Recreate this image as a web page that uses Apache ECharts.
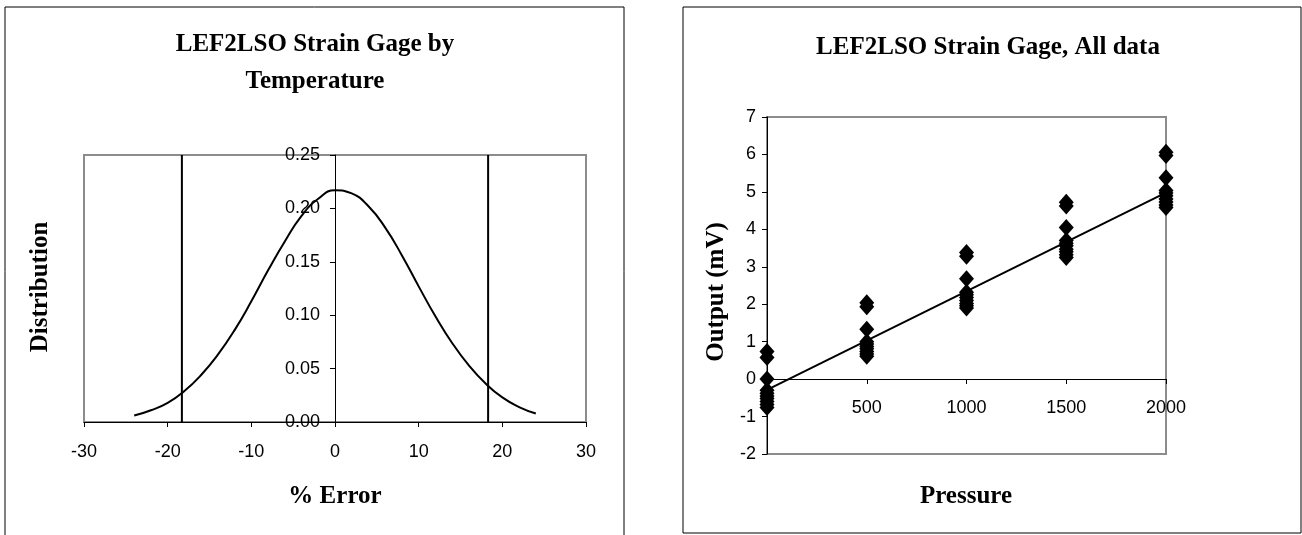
<!DOCTYPE html>
<html>
<head>
<meta charset="utf-8">
<script src="https://cdn.jsdelivr.net/npm/echarts@6/dist/echarts.min.js"></script>
<style>
  html, body { margin: 0; padding: 0; background: #fff; }
  #chart { width: 1302px; height: 535px; }
</style>
</head>
<body>
<div id="chart"></div>
<script>
// left chart: error distribution
const errorX = [-24, -22, -20, -18, -16, -14, -12, -10, -8, -6, -4, -2, 0, 2, 4, 6, 8, 10, 12, 14, 16, 18, 20, 22, 24]
const distY = [0.006, 0.011, 0.018, 0.029, 0.044, 0.063, 0.086, 0.113, 0.142, 0.169, 0.193, 0.209, 0.217, 0.214, 0.202, 0.182, 0.156, 0.127, 0.099, 0.074, 0.053, 0.036, 0.023, 0.014, 0.008]
const limitX = [-18.3, 18.3]

// right chart: output vs pressure
const pressure = [0, 500, 1000, 1500, 2000]
const out0 = [0.74, 0.58, 0.0, -0.3, -0.38, -0.45, -0.52, -0.6, -0.68, -0.76]
const out500 = [2.04, 1.93, 1.33, 1.0, 0.94, 0.87, 0.81, 0.74, 0.67, 0.61]
const out1000 = [3.38, 3.28, 2.68, 2.32, 2.25, 2.18, 2.1, 2.02, 1.96, 1.9]
const out1500 = [4.72, 4.62, 4.05, 3.7, 3.63, 3.56, 3.47, 3.4, 3.32, 3.25]
const out2000 = [6.06, 5.97, 5.38, 5.04, 4.97, 4.9, 4.81, 4.73, 4.65, 4.58]
const fitX = [0, 2000]
const fitY = [-0.29, 4.98]

const labelFont = { fontFamily: 'Liberation Sans', fontSize: 18, color: '#000' }
const bold = 'bold 25px "Liberation Serif"'

const outputs = [out0, out500, out1000, out1500, out2000]
const scatterData = []
pressure.forEach((p, i) => {
  outputs[i].forEach(v => scatterData.push([p, v]))
})

const chart = echarts.init(document.getElementById('chart'))

const option = {
  animation: false,
  graphic: [
    // chart frames
    { type: 'rect', shape: { x: 5, y: 7, width: 619, height: 560 }, style: { fill: 'none', stroke: '#000', lineWidth: 1 } },
    { type: 'rect', shape: { x: 683, y: 7, width: 618, height: 526 }, style: { fill: 'none', stroke: '#000', lineWidth: 1 } },
    // titles and axis names
    { type: 'text', style: { text: 'LEF2LSO Strain Gage by\nTemperature', x: 315, y: 63, textAlign: 'center', textVerticalAlign: 'middle', font: bold, lineHeight: 37, fill: '#000' } },
    { type: 'text', style: { text: 'LEF2LSO Strain Gage, All data', x: 988, y: 48, textAlign: 'center', textVerticalAlign: 'middle', font: bold, fill: '#000' } },
    { type: 'text', x: 41, y: 287, rotation: Math.PI / 2, style: { text: 'Distribution', x: 0, y: 0, textAlign: 'center', textVerticalAlign: 'middle', font: bold, fill: '#000' } },
    { type: 'text', style: { text: '% Error', x: 335, y: 497, textAlign: 'center', textVerticalAlign: 'middle', font: bold, fill: '#000' } },
    { type: 'text', x: 717, y: 292, rotation: Math.PI / 2, style: { text: 'Output (mV)', x: 0, y: 0, textAlign: 'center', textVerticalAlign: 'middle', font: bold, fill: '#000' } },
    { type: 'text', style: { text: 'Pressure', x: 966, y: 497, textAlign: 'center', textVerticalAlign: 'middle', font: bold, fill: '#000' } }
  ],
  grid: [
    { left: 84, top: 155, width: 502, height: 267, show: true, borderColor: '#8c8c8c', borderWidth: 2 },
    { left: 767, top: 117, width: 399, height: 337, show: true, borderColor: '#8c8c8c', borderWidth: 2 }
  ],
  xAxis: [
    {
      gridIndex: 0, type: 'value', min: -30, max: 30, interval: 10,
      axisLine: { onZero: false, lineStyle: { color: '#000', width: 1 } },
      axisTick: { length: 5, lineStyle: { color: '#000' } },
      axisLabel: { ...labelFont, margin: 21 },
      splitLine: { show: false }
    },
    {
      // x axis crosses at output 0 (2/9 of the plot height above the bottom)
      gridIndex: 1, type: 'value', min: 0, max: 2000, interval: 500,
      position: 'bottom', offset: -75,
      axisLine: { onZero: false, lineStyle: { color: '#000', width: 1 } },
      axisTick: { length: 5, lineStyle: { color: '#000' } },
      axisLabel: { ...labelFont, margin: 20, formatter: v => (v === 0 ? '' : String(v)) },
      splitLine: { show: false }
    }
  ],
  yAxis: [
    {
      // y axis sits at 0 % error, the middle of the plot
      gridIndex: 0, type: 'value', min: 0, max: 0.25, interval: 0.05,
      position: 'left', offset: -251,
      axisLine: { show: true, onZero: false, lineStyle: { color: '#000', width: 1 } },
      axisTick: { show: true, length: 5, lineStyle: { color: '#000' } },
      axisLabel: { ...labelFont, margin: 15, formatter: v => v.toFixed(2) },
      splitLine: { show: false }
    },
    {
      gridIndex: 1, type: 'value', min: -2, max: 7, interval: 1,
      axisLine: { show: true, onZero: false, lineStyle: { color: '#000', width: 1 } },
      axisTick: { show: true, length: 5, lineStyle: { color: '#000' } },
      axisLabel: { ...labelFont, margin: 11 },
      splitLine: { show: false }
    }
  ],
  series: [
    {
      type: 'line', xAxisIndex: 0, yAxisIndex: 0, smooth: true, symbol: 'none',
      lineStyle: { color: '#000', width: 2 },
      data: errorX.map((x, i) => [x, distY[i]])
    },
    ...limitX.map(x => ({
      type: 'line', xAxisIndex: 0, yAxisIndex: 0, symbol: 'none',
      lineStyle: { color: '#000', width: 2 },
      data: [[x, 0], [x, 0.25]]
    })),
    {
      type: 'line', xAxisIndex: 1, yAxisIndex: 1, symbol: 'none',
      lineStyle: { color: '#000', width: 2 },
      data: fitX.map((x, i) => [x, fitY[i]])
    },
    {
      type: 'scatter', xAxisIndex: 1, yAxisIndex: 1, symbol: 'diamond', symbolSize: [15, 17],
      itemStyle: { color: '#000', opacity: 1 },
      data: scatterData
    }
  ]
}

chart.setOption(option)
</script>
</body>
</html>
